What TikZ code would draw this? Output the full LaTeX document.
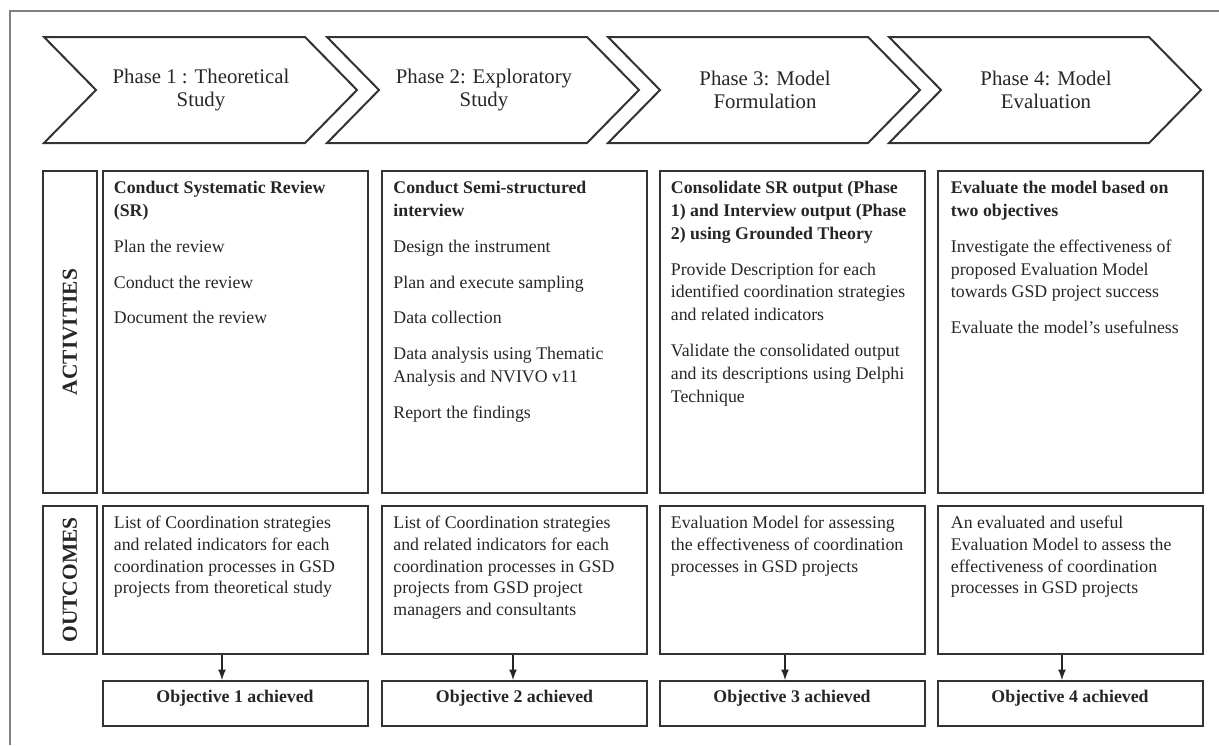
\documentclass[tikz,border=0pt]{standalone}
\usepackage{fontspec}
\setmainfont{Liberation Serif}
\usepackage{xcolor}
\usepackage{tikz}
\usetikzlibrary{calc}
\tikzset{>=latex}

\begin{document}
\begin{tikzpicture}[x=0.5pt, y=-0.5pt,
    chevron/.style={draw=black!80, line width=1pt},
    phasetext/.style={align=center, inner sep=0pt, font=\fontsize{10.4}{11.6}\selectfont, text=black!85},
    sidebox/.style={draw=black!80, line width=1pt, minimum width=27pt, inner sep=0pt},
    sidetext/.style={rotate=90, inner sep=0pt, font=\fontsize{10.7}{12}\selectfont\bfseries, text=black!85},
    colbox/.style={draw=black!80, line width=1pt, minimum width=132.5pt, inner sep=0pt},
    acttext/.style={anchor=north west, align=left, inner sep=0pt, font=\fontsize{8.9}{11.4}\selectfont, text=black!85},
    outtext/.style={anchor=north west, align=left, inner sep=0pt, font=\fontsize{8.9}{10.8}\selectfont, text=black!85},
    objbox/.style={draw=black!80, line width=1pt, minimum width=132.5pt, minimum height=22.5pt, inner sep=0pt,
        font=\fontsize{8.9}{10.8}\selectfont\bfseries, text=black!85, text height=6pt, text depth=7pt}]
    \useasboundingbox (0,0) rectangle (1219,745);

    % Coordinates
    \coordinate (p1) at (44,37);
    \coordinate (p2) at (327,37);
    \coordinate (p3) at (608,37);
    \coordinate (p4) at (889,37);

    % Frame
    \draw[black!50, line width=0.8pt] (10,745) -- (10,11) -- (1219,11);

    % Phase chevrons
    \draw[chevron] (p1) -- ++(261,0) -- ++(52,53) -- ++(-52,53) -- ++(-261,0) -- ++(52,-53) -- cycle;
    \draw[chevron] (p2) -- ++(260,0) -- ++(52,53) -- ++(-52,53) -- ++(-260,0) -- ++(52,-53) -- cycle;
    \draw[chevron] (p3) -- ++(260,0) -- ++(52,53) -- ++(-52,53) -- ++(-260,0) -- ++(52,-53) -- cycle;
    \draw[chevron] (p4) -- ++(260,0) -- ++(52,53) -- ++(-52,53) -- ++(-260,0) -- ++(52,-53) -- cycle;
    % Text
    \node[phasetext] (ph1) at ($(p1)+(157,53)$) {Phase 1 : Theoretical\\Study};
    \node[phasetext] (ph2) at ($(p2)+(157,53)$) {Phase 2: Exploratory\\Study};
    \node[phasetext] (ph3) at ($(p3)+(157,53)$) {Phase 3: Model\\Formulation};
    \node[phasetext] (ph4) at ($(p4)+(157,53)$) {Phase 4: Model\\Evaluation};

    % Row labels
    \node[sidebox, minimum height=161pt] (actlabel) at (70,332) {};
    \node[sidetext] (acttitle) at (actlabel.center) {ACTIVITIES};
    \node[sidebox, minimum height=74pt] (outlabel) at (70,580) {};
    \node[sidetext] (outtitle) at (outlabel.center) {OUTCOMES};

    % Activities
    \node[colbox, minimum height=161pt] (act1) at (235,332) {};
    \node[colbox, minimum height=161pt] (act2) at (514.5,332) {};
    \node[colbox, minimum height=161pt] (act3) at (792,332) {};
    \node[colbox, minimum height=161pt] (act4) at (1070,332) {};
    % Text
    \node[acttext] (acttxt1) at ([shift={(12,11)}]act1.north west)
        {\textbf{Conduct Systematic Review}\\\textbf{(SR)}\\[6.5pt]Plan the review\\[6.5pt]Conduct the review\\[6.5pt]Document the review};
    \node[acttext] (acttxt2) at ([shift={(12,11)}]act2.north west)
        {\textbf{Conduct Semi-structured}\\\textbf{interview}\\[6.5pt]Design the instrument\\[6.5pt]Plan and execute sampling\\[6.5pt]Data collection\\[6.5pt]Data analysis using Thematic\\Analysis and NVIVO v11\\[6.5pt]Report the findings};
    \node[acttext] (acttxt3) at ([shift={(12,11)}]act3.north west)
        {\textbf{Consolidate SR output (Phase}\\\textbf{1) and Interview output (Phase}\\\textbf{2) using Grounded Theory}\\[6.5pt]Provide Description for each\\identified coordination strategies\\and related indicators\\[6.5pt]Validate the consolidated output\\and its descriptions using Delphi\\Technique};
    \node[acttext] (acttxt4) at ([shift={(14,11)}]act4.north west)
        {\textbf{Evaluate the model based on}\\\textbf{two objectives}\\[6.5pt]Investigate the effectiveness of\\proposed Evaluation Model\\towards GSD project success\\[6.5pt]Evaluate the model’s usefulness};

    % Outcomes
    \node[colbox, minimum height=74pt] (out1) at (235,580) {};
    \node[colbox, minimum height=74pt] (out2) at (514.5,580) {};
    \node[colbox, minimum height=74pt] (out3) at (792,580) {};
    \node[colbox, minimum height=74pt] (out4) at (1070,580) {};
    % Text
    \node[outtext] (outtxt1) at ([shift={(12,11)}]out1.north west)
        {List of Coordination strategies\\and related indicators for each\\coordination processes in GSD\\projects from theoretical study};
    \node[outtext] (outtxt2) at ([shift={(12,11)}]out2.north west)
        {List of Coordination strategies\\and related indicators for each\\coordination processes in GSD\\projects from GSD project\\managers and consultants};
    \node[outtext] (outtxt3) at ([shift={(12,11)}]out3.north west)
        {Evaluation Model for assessing\\the effectiveness of coordination\\processes in GSD projects};
    \node[outtext] (outtxt4) at ([shift={(14,11)}]out4.north west)
        {An evaluated and useful\\Evaluation Model to assess the\\effectiveness of coordination\\processes in GSD projects};

    % Objectives
    \node[objbox] (obj1) at (235,703.5) {Objective 1 achieved};
    \node[objbox] (obj2) at (514.5,703.5) {Objective 2 achieved};
    \node[objbox] (obj3) at (792,703.5) {Objective 3 achieved};
    \node[objbox] (obj4) at (1070,703.5) {Objective 4 achieved};

    % Arrows
    \draw[->, line width=0.8pt, black!85] ([xshift=-6.5pt]out1.south) -- ([xshift=-6.5pt]obj1.north);
    \draw[->, line width=0.8pt, black!85] ([xshift=-0.75pt]out2.south) -- ([xshift=-0.75pt]obj2.north);
    \draw[->, line width=0.8pt, black!85] ([xshift=-3.5pt]out3.south) -- ([xshift=-3.5pt]obj3.north);
    \draw[->, line width=0.8pt, black!85] ([xshift=-4pt]out4.south) -- ([xshift=-4pt]obj4.north);
\end{tikzpicture}
\end{document}
